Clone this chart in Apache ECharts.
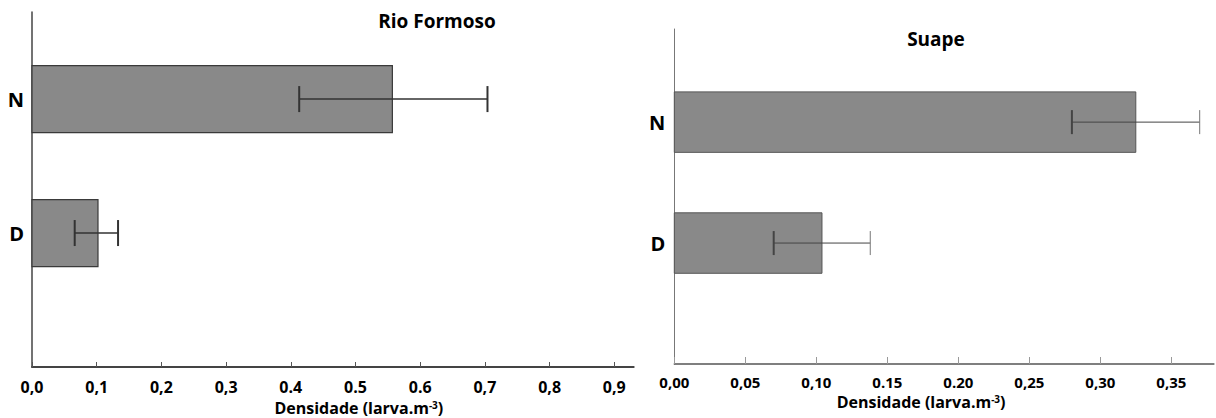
<!DOCTYPE html>
<html><head><meta charset="utf-8">
<script src="https://cdn.jsdelivr.net/npm/echarts@6/dist/echarts.min.js"></script>
<style>html,body{margin:0;padding:0;background:#fff}#c{width:1216px;height:418px}</style>
</head><body><div id="c"></div>
<script>
// ---- data ----
const categories = ['D', 'N'];
const categoryPositions = [1, 2];
const rioMean = [0.102, 0.557];
const rioLow = [0.066, 0.413];
const rioHigh = [0.133, 0.704];
const suapeMean = [0.104, 0.325];
const suapeLow = [0.070, 0.280];
const suapeHigh = [0.138, 0.370];
const rioTickValues = [0, 0.1, 0.2, 0.3, 0.4, 0.5, 0.6, 0.7, 0.8, 0.9];
const rioTickLabels = ['0,0', '0,1', '0,2', '0,3', '0.4', '0.5', '0.6', '0,7', '0,8', '0,9'];
const suapeTickValues = [0, 0.05, 0.10, 0.15, 0.20, 0.25, 0.30, 0.35];
const suapeTickLabels = ['0,00', '0,05', '0,10', '0.15', '0.20', '0,25', '0,30', '0,35'];
const titles = ['Rio Formoso', 'Suape'];
const axisTitle = 'Densidade (larva.m{sup|-3})';

const FONT = '"Open Sans", "Liberation Sans", sans-serif';

function lookup(values, labels) {
  return function (v) {
    for (let i = 0; i < values.length; i++) {
      if (Math.abs(values[i] - v) < 1e-6) return labels[i];
    }
    return '';
  };
}
function catLabel(v) {
  const i = categoryPositions.indexOf(Math.round(v));
  return i >= 0 ? categories[i] : '';
}

function barItem(stroke, lw) {
  return function (params, api) {
    const v = api.value(0), y = api.value(1);
    const a = api.coord([0, y]);
    const b = api.coord([v, y]);
    const h = api.size([0, 0.5])[1];
    return {
      type: 'rect',
      shape: { x: a[0], y: a[1] - h / 2, width: b[0] - a[0], height: h },
      style: { fill: '#898989', stroke: stroke, lineWidth: lw }
    };
  };
}
function errItem(s) {
  return function (params, api) {
    const y = api.value(2);
    const lo = api.coord([api.value(0), y]);
    const hi = api.coord([api.value(1), y]);
    return {
      type: 'group',
      children: [
        { type: 'line', shape: { x1: lo[0], y1: lo[1], x2: hi[0], y2: hi[1] }, style: { stroke: s.color, lineWidth: s.lw } },
        { type: 'line', shape: { x1: lo[0], y1: lo[1] - s.cap, x2: lo[0], y2: lo[1] + s.cap }, style: { stroke: s.color, lineWidth: s.capW } },
        { type: 'line', shape: { x1: hi[0], y1: hi[1] - s.cap, x2: hi[0], y2: hi[1] + s.cap }, style: { stroke: s.color2, lineWidth: s.capW2 } }
      ]
    };
  };
}

const nameRich = {
  sup: { fontSize: 10, fontWeight: 'bold', fontFamily: FONT, color: '#000', lineHeight: 16, verticalAlign: 'top', padding: [0, 0, 8, 0] }
};

function xAxisCfg(gi, max, tv, tl, s) {
  return {
    type: 'value', gridIndex: gi, min: 0, max: max,
    axisLine: { show: true, onZero: false, lineStyle: { color: s.lineColor, width: s.lineW } },
    axisTick: { show: true, inside: true, length: s.tickLen, customValues: tv, lineStyle: { color: s.tickColor, width: 1 } },
    axisLabel: { customValues: tv, formatter: lookup(tv, tl), margin: s.labelMargin, color: '#000', fontWeight: 'bold', fontSize: s.labelSize, fontFamily: FONT },
    splitLine: { show: false },
    name: axisTitle, nameLocation: 'middle', nameGap: s.nameGap,
    nameTextStyle: { color: '#000', fontWeight: 'bold', fontSize: 16, lineHeight: 16, fontFamily: FONT, padding: s.namePad, rich: nameRich }
  };
}
function yAxisCfg(gi, max, s) {
  return {
    type: 'value', gridIndex: gi, min: 0, max: max,
    axisLine: { show: true, onZero: false, lineStyle: { color: s.lineColor, width: s.lineW } },
    axisTick: { show: false },
    axisLabel: { customValues: categoryPositions, formatter: catLabel, margin: s.labelMargin, color: '#000', fontWeight: 'bold', fontSize: 20, fontFamily: FONT },
    splitLine: { show: false }
  };
}

const option = {
  animation: false,
  backgroundColor: '#fff',
  grid: [
    { left: 32, top: 12, width: 601.7, height: 355, outerBoundsMode: 'none', containLabel: false },
    { left: 674.3, top: 29, width: 539.6, height: 335, outerBoundsMode: 'none', containLabel: false }
  ],
  xAxis: [
    xAxisCfg(0, 0.93, rioTickValues, rioTickLabels, { lineColor: '#444', lineW: 2, tickLen: 5, tickColor: '#555', labelMargin: 12, labelSize: 16, nameGap: 29, namePad: [0, 0, 0, 52] }),
    xAxisCfg(1, 0.38, suapeTickValues, suapeTickLabels, { lineColor: '#555', lineW: 1.5, tickLen: 7, tickColor: '#999', labelMargin: 10, labelSize: 15, nameGap: 30, namePad: [0, 46, 0, 0] })
  ],
  yAxis: [
    yAxisCfg(0, 2.65, { lineColor: '#444', lineW: 1.5, labelMargin: 8 }),
    yAxisCfg(1, 2.77, { lineColor: '#777', lineW: 1, labelMargin: 9 })
  ],
  graphic: [
    { type: 'text', x: 437, y: 21, style: { text: titles[0], align: 'center', verticalAlign: 'middle', font: 'bold 19px ' + FONT, fill: '#000' } },
    { type: 'text', x: 936, y: 39, style: { text: titles[1], align: 'center', verticalAlign: 'middle', font: 'bold 19px ' + FONT, fill: '#000' } }
  ],
  series: [
    {
      type: 'custom', name: 'Rio Formoso', xAxisIndex: 0, yAxisIndex: 0,
      renderItem: barItem('#3a3a3a', 1.2),
      encode: { x: 0, y: 1 },
      data: categories.map((c, i) => [rioMean[i], categoryPositions[i]])
    },
    {
      type: 'custom', name: 'Rio Formoso erro', xAxisIndex: 0, yAxisIndex: 0,
      renderItem: errItem({ color: '#333', lw: 1.5, cap: 13, capW: 2, color2: '#333', capW2: 2 }),
      encode: { x: [0, 1], y: 2 },
      data: categories.map((c, i) => [rioLow[i], rioHigh[i], categoryPositions[i]])
    },
    {
      type: 'custom', name: 'Suape', xAxisIndex: 1, yAxisIndex: 1,
      renderItem: barItem('#555', 1),
      encode: { x: 0, y: 1 },
      data: categories.map((c, i) => [suapeMean[i], categoryPositions[i]])
    },
    {
      type: 'custom', name: 'Suape erro', xAxisIndex: 1, yAxisIndex: 1,
      renderItem: errItem({ color: '#444', lw: 1, cap: 12, capW: 2, color2: '#777', capW2: 1 }),
      encode: { x: [0, 1], y: 2 },
      data: categories.map((c, i) => [suapeLow[i], suapeHigh[i], categoryPositions[i]])
    }
  ]
};

const chart = echarts.init(document.getElementById('c'), null, { renderer: 'svg' });
chart.setOption(option);
</script>
</body></html>
